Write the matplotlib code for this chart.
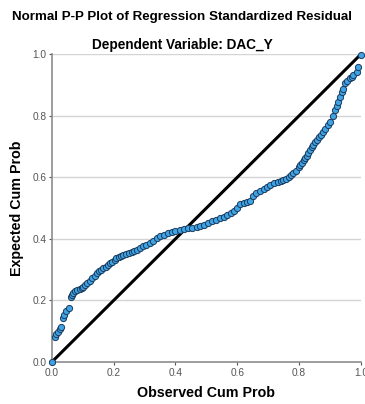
import numpy as np
import matplotlib
matplotlib.use("Agg")
import matplotlib.pyplot as plt

plt.rcParams['font.family'] = ['Liberation Sans', 'DejaVu Sans']

# observed vs expected cumulative probabilities
observed = [0.000, 0.010, 0.015, 0.020, 0.026, 0.031, 0.035, 0.039, 0.045, 0.056,
            0.061, 0.066, 0.070, 0.076, 0.083, 0.090, 0.096, 0.101, 0.108, 0.115,
            0.123, 0.130, 0.139, 0.145, 0.152, 0.160, 0.166, 0.174, 0.181, 0.188,
            0.196, 0.203, 0.209, 0.217, 0.224, 0.231, 0.240, 0.250, 0.258, 0.266,
            0.275, 0.285, 0.295, 0.305, 0.317, 0.328, 0.340, 0.350, 0.362, 0.375,
            0.388, 0.400, 0.414, 0.428, 0.442, 0.455, 0.468, 0.479, 0.492, 0.505,
            0.518, 0.532, 0.544, 0.556, 0.568, 0.580, 0.590, 0.600, 0.608, 0.620,
            0.632, 0.641, 0.651, 0.662, 0.674, 0.686, 0.697, 0.706, 0.718, 0.730,
            0.740, 0.749, 0.758, 0.768, 0.775, 0.781, 0.790, 0.798, 0.804, 0.808,
            0.815, 0.820, 0.824, 0.830, 0.836, 0.840, 0.846, 0.852, 0.857, 0.864,
            0.871, 0.878, 0.885, 0.893, 0.900, 0.908, 0.916, 0.922, 0.927, 0.932,
            0.938, 0.943, 0.948, 0.956, 0.964, 0.970, 0.975, 0.986, 0.991, 1.000]
expected = [0.000, 0.082, 0.091, 0.098, 0.106, 0.113, 0.142, 0.153, 0.167, 0.176,
            0.210, 0.218, 0.224, 0.230, 0.234, 0.238, 0.241, 0.244, 0.250, 0.256,
            0.262, 0.272, 0.280, 0.290, 0.296, 0.300, 0.304, 0.310, 0.315, 0.320,
            0.326, 0.332, 0.337, 0.341, 0.344, 0.347, 0.350, 0.354, 0.357, 0.360,
            0.364, 0.370, 0.376, 0.380, 0.386, 0.392, 0.402, 0.410, 0.414, 0.418,
            0.421, 0.424, 0.428, 0.431, 0.434, 0.436, 0.438, 0.441, 0.446, 0.452,
            0.457, 0.462, 0.467, 0.472, 0.478, 0.484, 0.490, 0.500, 0.512, 0.518,
            0.521, 0.524, 0.540, 0.548, 0.556, 0.562, 0.568, 0.575, 0.580, 0.584,
            0.588, 0.591, 0.596, 0.602, 0.607, 0.613, 0.622, 0.633, 0.640, 0.647,
            0.656, 0.662, 0.670, 0.680, 0.690, 0.699, 0.706, 0.713, 0.721, 0.730,
            0.738, 0.748, 0.758, 0.770, 0.780, 0.800, 0.818, 0.832, 0.845, 0.860,
            0.878, 0.888, 0.905, 0.912, 0.921, 0.927, 0.932, 0.943, 0.959, 0.997]

ticks = [0.0, 0.2, 0.4, 0.6, 0.8, 1.0]
tick_labels = ["0.0", "0.2", "0.4", "0.6", "0.8", "1.0"]

fig = plt.figure(figsize=(3.65, 4.04), dpi=100)
ax = fig.add_axes([0.142, 0.104, 0.847, 0.762])

for t in ticks[1:]:
    ax.axhline(t, color='#d4d4d4', lw=1.0, zorder=0)

ax.plot([0, 1], [0, 1], color='black', lw=2.2, zorder=2)
ax.scatter(observed, expected, s=20, facecolor='#3fa4e6', edgecolor='#1b3a5c',
           linewidths=0.7, zorder=3, clip_on=False)

ax.set_xlim(0, 1)
ax.set_ylim(0, 1)
ax.set_xticks(ticks)
ax.set_xticklabels(tick_labels)
ax.set_yticks(ticks)
ax.set_yticklabels(tick_labels)
ax.tick_params(labelsize=7.3, colors='#555555', length=2.5, width=0.8, pad=1.5)

for side in ['top', 'right']:
    ax.spines[side].set_visible(False)
for side in ['left', 'bottom']:
    ax.spines[side].set_color('#8c8c8c')
    ax.spines[side].set_linewidth(1.2)

ax.set_xlabel("Observed Cum Prob", fontsize=10.3, fontweight='bold', labelpad=6)
ax.set_ylabel("Expected Cum Prob", fontsize=10.3, fontweight='bold', labelpad=6)

fig.text(0.5, 0.958, "Normal P-P Plot of Regression Standardized Residual",
         ha='center', va='center', fontsize=9.6, fontweight='bold')
fig.text(0.5, 0.889, "Dependent Variable: DAC_Y",
         ha='center', va='center', fontsize=9.8, fontweight='bold')

fig.savefig("out.png", dpi=100)
